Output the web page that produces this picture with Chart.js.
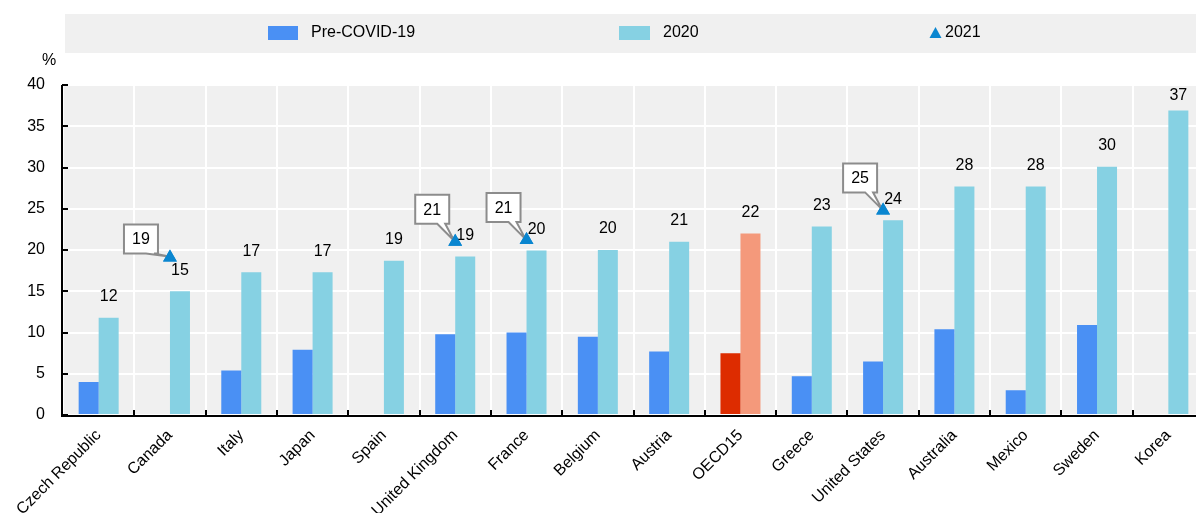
<!DOCTYPE html>
<html>
<head>
<meta charset="utf-8">
<script src="https://cdn.jsdelivr.net/npm/chart.js@4"></script>
<style>
 html,body{margin:0;padding:0;background:#fff;overflow:hidden;}
 #wrap{width:1196px;height:513px;overflow:hidden;}
</style>
</head>
<body>
<div id="wrap"><canvas id="chart" width="1204" height="513"></canvas></div>
<script>
// Data
var countries = ["Czech Republic","Canada","Italy","Japan","Spain","United Kingdom","France","Belgium","Austria","OECD15","Greece","United States","Australia","Mexico","Sweden","Korea"];
var preCovid = [4.0,null,5.4,7.9,null,9.8,10.0,9.5,7.7,7.5,4.7,6.5,10.4,3.0,10.9,null];
var y2020 = [11.8,15.0,17.3,17.3,18.7,19.2,19.95,20.0,21.0,22.0,22.85,23.6,27.7,27.7,30.1,36.9];
var y2021 = [null,19.1,null,null,null,21.0,21.2,null,null,null,null,24.8,null,null,null,null];
var y2021Labels = [null,19,null,null,null,21,21,null,null,null,null,25,null,null,null,null];
var yTicks = [0,5,10,15,20,25,30,35,40];

var FONT = "'Liberation Sans', Arial, sans-serif";
var blue = "#4a90f4", light = "#86d1e3", red = "#dd2c00", salmon = "#f4997b", tri = "#0a86d0";
var oecd = countries.indexOf("OECD15");

var preColors = countries.map(function(c,i){ return i===oecd ? red : blue; });
var c2020Colors = countries.map(function(c,i){ return i===oecd ? salmon : light; });

// background, axes, legend, labels, callouts
var decor = {
 id:'decor',
 beforeDraw:function(chart){
  var ctx = chart.ctx, a = chart.chartArea;
  ctx.save();
  ctx.fillStyle = "#f0f0f0";
  ctx.fillRect(a.left, a.top, a.right-a.left, a.bottom-a.top);
  // legend band
  ctx.fillRect(65, 14, 1139, 39);
  ctx.restore();
 },
 afterDatasetsDraw:function(chart){
  var ctx = chart.ctx, a = chart.chartArea;
  var ys = chart.scales.y;
  ctx.save();
  // axes
  ctx.strokeStyle = "#000";
  ctx.lineWidth = 2;
  ctx.beginPath();
  ctx.moveTo(a.left-1, a.top);
  ctx.lineTo(a.left-1, a.bottom+1);
  ctx.lineTo(a.right, a.bottom+1);
  ctx.stroke();
  ctx.beginPath();
  yTicks.forEach(function(v){
   var y = Math.round(ys.getPixelForValue(v));
   ctx.moveTo(a.left-1, y); ctx.lineTo(a.left+5, y);
  });
  var step = (a.right-a.left)/countries.length;
  for (var i=1;i<countries.length;i++){
   var x = Math.round(a.left + step*i);
   ctx.moveTo(x, a.bottom+1); ctx.lineTo(x, a.bottom-5);
  }
  ctx.stroke();

  // % label
  ctx.fillStyle = "#000";
  ctx.font = "16px " + FONT;
  ctx.textAlign = "center";
  ctx.textBaseline = "middle";
  ctx.fillText("%", 49, 61);

  // value labels above 2020 bars
  var meta = chart.getDatasetMeta(1);
  meta.data.forEach(function(bar, i){
   var off = y2020[i] > 35 ? 15 : 21;
   ctx.fillText(String(Math.round(y2020[i])), bar.x, bar.y - off);
  });

  // legend
  ctx.fillStyle = blue; ctx.fillRect(268, 26, 30, 14);
  ctx.fillStyle = light; ctx.fillRect(619, 26, 31, 14);
  ctx.fillStyle = tri;
  ctx.beginPath(); ctx.moveTo(935.5, 27); ctx.lineTo(941.5, 38); ctx.lineTo(929.5, 38); ctx.closePath(); ctx.fill();
  ctx.fillStyle = "#000";
  ctx.textAlign = "left";
  ctx.fillText("Pre-COVID-19", 311, 33);
  ctx.fillText("2020", 663, 33);
  ctx.fillText("2021", 945, 33);

  // callouts for 2021
  var pm = chart.getDatasetMeta(2);
  pm.data.forEach(function(p, i){
   if (y2021[i] == null) return;
   var low = i === 1;
   var bx = p.x - (low ? 46 : 40), by = p.y - (low ? 33 : 47), bw = 34, bh = 29;
   ctx.lineWidth = 2;
   ctx.strokeStyle = "#8c8c8c";
   ctx.fillStyle = "#fff";
   ctx.beginPath();
   ctx.moveTo(bx, by);
   ctx.lineTo(bx+bw, by);
   ctx.lineTo(bx+bw, by+bh);
   ctx.lineTo(bx+bw-4, by+bh);
   ctx.lineTo(p.x-1, p.y-1);
   ctx.lineTo(bx+bw-12, by+bh);
   ctx.lineTo(bx, by+bh);
   ctx.closePath();
   ctx.fill();
   ctx.stroke();
   ctx.fillStyle = "#000";
   ctx.textAlign = "center";
   ctx.fillText(String(y2021Labels[i]), bx+bw/2, by+bh/2+1);
  });
  // redraw triangles on top of callout tails
  pm.data.forEach(function(p){ if (!p.skip) p.draw(ctx); });
  ctx.restore();
 }
};

new Chart(document.getElementById('chart'), {
 type:'bar',
 data:{
  labels:countries,
  datasets:[
   {label:"Pre-COVID-19", data:preCovid, backgroundColor:preColors, categoryPercentage:0.561, barPercentage:1, order:2},
   {label:"2020", data:y2020, backgroundColor:c2020Colors, categoryPercentage:0.561, barPercentage:1, order:2},
   {label:"2021", type:'line', data:y2021, showLine:false, pointStyle:'triangle', pointRadius:8, pointHoverRadius:8,
    backgroundColor:tri, borderColor:tri, borderWidth:0, order:1}
  ]
 },
 options:{
  responsive:false,
  animation:false,
  events:[],
  layout:{autoPadding:false, padding:{top:85,right:0,left:0,bottom:0}},
  plugins:{legend:{display:false}, tooltip:{enabled:false}},
  scales:{
   x:{
    offset:true,
    grid:{offset:true, color:"#ffffff", lineWidth:2, drawTicks:false},
    border:{display:false},
    ticks:{autoSkip:false, minRotation:45, maxRotation:45, color:"#000", font:{family:FONT, size:16}, padding:11},
    afterFit:function(s){ s.height = 98; s.paddingLeft = 0; s.paddingRight = 0; }
   },
   y:{
    min:0, max:40,
    afterBuildTicks:function(s){ s.ticks = yTicks.map(function(v){ return {value:v}; }); },
    grid:{color:"#ffffff", lineWidth:2, drawTicks:false},
    border:{display:false},
    ticks:{color:"#000", font:{family:FONT, size:16}, padding:18},
    afterFit:function(s){ s.width = 63; }
   }
  }
 },
 plugins:[decor]
});
</script>
</body>
</html>
